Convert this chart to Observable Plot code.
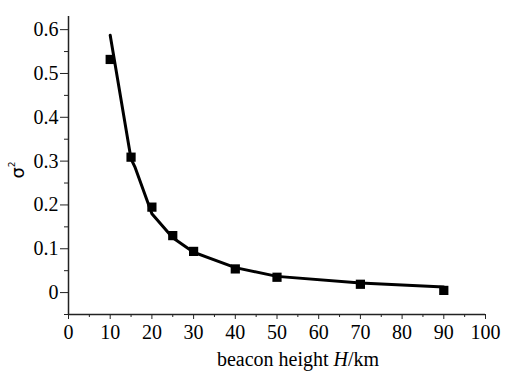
<!DOCTYPE html>
<html>
<head>
<meta charset="utf-8">
<script src="https://cdn.jsdelivr.net/npm/d3@7"></script>
<script src="https://cdn.jsdelivr.net/npm/@observablehq/plot@0.6"></script>
<style>
  body { margin: 0; background: #fff; font-family: "Liberation Serif", serif; }
</style>
</head>
<body>
<div id="chart"></div>
<script>
// Measured points (squares)
const heights = [10, 15, 20, 25, 30, 40, 50, 70, 90];
const sigma2 = [0.532, 0.309, 0.195, 0.130, 0.094, 0.054, 0.035, 0.019, 0.005];
// Fitted curve (line)
const fitHeights = [10, 15, 16, 20, 25, 30, 40, 50, 70, 90];
const fitSigma2 = [0.587, 0.305, 0.285, 0.180, 0.125, 0.092, 0.057, 0.037, 0.022, 0.013];
const xTicks = [0, 10, 20, 30, 40, 50, 60, 70, 80, 90, 100];
const xMinor = [5, 15, 25, 35, 45, 55, 65, 75, 85, 95];
const yTicks = [0, 0.1, 0.2, 0.3, 0.4, 0.5, 0.6];
const yMinor = [-0.05, 0.05, 0.15, 0.25, 0.35, 0.45, 0.55];

const points = heights.map((h, i) => ({h, s: sigma2[i]}));
const fit = fitHeights.map((h, i) => ({h, s: fitSigma2[i]}));

const chart = Plot.plot({
  width: 517,
  height: 373,
  marginLeft: 68,
  marginRight: 32,
  marginTop: 16,
  marginBottom: 59,
  style: "font-family: serif; font-size: 20px; color: #000; background: #fff;",
  x: {domain: [0, 100]},
  y: {domain: [-0.05, 0.63]},
  marks: [
    Plot.axisX({ticks: xTicks, tickSize: 5, tickPadding: 5, tickFormat: d => String(d), fontSize: 20, fill: "#000", stroke: "#222", label: null}),
    Plot.axisX({ticks: xMinor, tickSize: 3, tickFormat: () => "", stroke: "#222", label: null}),
    Plot.axisY({ticks: yTicks, tickSize: 8, tickPadding: 2, tickFormat: d => String(d), fontSize: 20, fill: "#000", stroke: "#222", label: null}),
    Plot.axisY({ticks: yMinor, tickSize: 4, tickFormat: () => "", stroke: "#222", label: null}),
    Plot.ruleX([0], {stroke: "#222", strokeWidth: 1.5}),
    Plot.ruleY([-0.05], {stroke: "#222", strokeWidth: 1.5}),
    Plot.line(fit, {x: "h", y: "s", stroke: "#000", strokeWidth: 3, curve: "linear"}),
    Plot.dot(points, {x: "h", y: "s", symbol: "square", r: 5.2, fill: "#000", stroke: "none"})
  ]
});

chart.setAttribute("font-family", "serif");
chart.setAttribute("font-size", "20");
chart.querySelectorAll("g, text").forEach(el => {
  if (el.hasAttribute("font-family")) el.setAttribute("font-family", "serif");
});

const svg = d3.select(chart);
svg.append("text")
  .attr("x", 298).attr("y", 366)
  .attr("text-anchor", "middle")
  .attr("font-family", "serif")
  .attr("font-size", 20)
  .attr("fill", "#000")
  .html('beacon height <tspan font-style="italic">H</tspan>/km');
svg.append("text")
  .attr("transform", "translate(24,170) rotate(-90)")
  .attr("text-anchor", "middle")
  .attr("font-family", "DejaVu Sans")
  .attr("font-size", 18)
  .attr("fill", "#000")
  .html('σ<tspan font-size="9" dy="-9">2</tspan>');

document.getElementById("chart").appendChild(chart);
</script>
</body>
</html>
